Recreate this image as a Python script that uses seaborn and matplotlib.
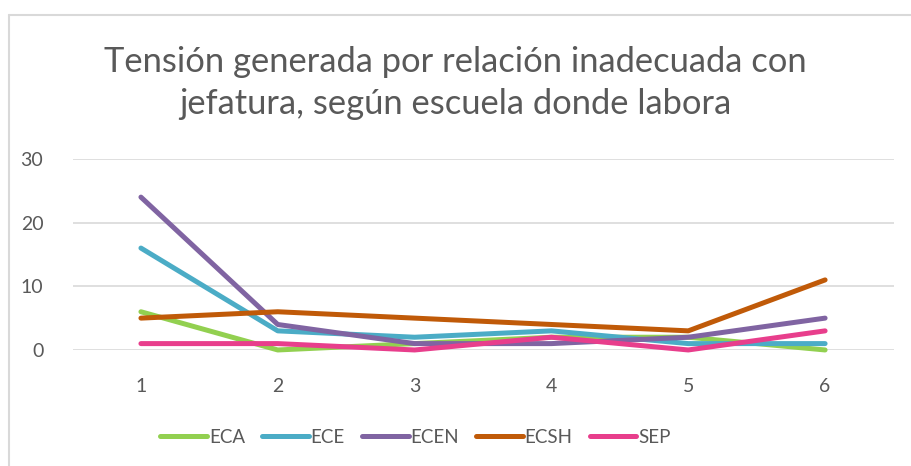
import numpy as np
import pandas as pd
import seaborn as sns
import matplotlib.pyplot as plt
from matplotlib.lines import Line2D

# datos
categorias = [1, 2, 3, 4, 5, 6]
eca = [6, 0, 1, 2, 2, 0]
ece = [16, 3, 2, 3, 1, 1]
ecen = [24, 4, 1, 1, 2, 5]
ecsh = [5, 6, 5, 4, 3, 11]
sep = [1, 1, 0, 2, 0, 3]
series = ['ECA', 'ECE', 'ECEN', 'ECSH', 'SEP']
colores = ['#92D050', '#4BACC6', '#8064A2', '#C05A08', '#E83E8C']

df = pd.DataFrame({'x': categorias, 'ECA': eca, 'ECE': ece, 'ECEN': ecen,
                   'ECSH': ecsh, 'SEP': sep})
df = df.melt(id_vars='x', var_name='escuela', value_name='valor')

sns.set_style('white')
plt.rcParams['font.family'] = ['Lato', 'DejaVu Sans']

fig = plt.figure(figsize=(9.11, 4.66), dpi=100)
ax = fig.add_axes([0.0796, 0.249, 0.9012, 0.41])

sns.lineplot(data=df, x='x', y='valor', hue='escuela', hue_order=series,
             palette=colores, linewidth=3.6, ax=ax, legend=False,
             solid_capstyle='round', solid_joinstyle='round')

ax.set_xlim(0.5, 6.5)
ax.set_ylim(0, 30)
ax.set_yticks([0, 10, 20, 30])
ax.set_xticks(categorias)
ax.grid(axis='y', color='#D9D9D9', linewidth=1.2)
ax.set_axisbelow(True)
for s in ax.spines.values():
    s.set_visible(False)
ax.tick_params(axis='both', length=0, labelsize=14, labelcolor='#595959')
ax.tick_params(axis='x', pad=20)
ax.tick_params(axis='y', pad=21)
ax.set_xlabel('')
ax.set_ylabel('')
for ln in ax.lines:
    ln.set_clip_on(False)

fig.text(0.5, 0.822, 'Tensión generada por relación inadecuada con\njefatura, según escuela donde labora',
         ha='center', va='center', fontsize=24.8, color='#595959', linespacing=1.38)

handles = [Line2D([0], [0], color=c, linewidth=3.6, solid_capstyle='round') for c in colores]
fig.legend(handles, series, loc='center', bbox_to_anchor=(0.456, 0.062), ncol=5,
           frameon=False, fontsize=13.5, labelcolor='#595959', handlelength=2.5,
           handletextpad=0.1, columnspacing=0.9)

# marco del grafico
fig.add_artist(Line2D([8.5 / 911, 8.5 / 911], [0, 1 - 15 / 466], color='#D9D9D9', linewidth=1.5))
fig.add_artist(Line2D([8.5 / 911, 1], [1 - 15 / 466, 1 - 15 / 466], color='#D9D9D9', linewidth=1.5))

fig.savefig('out.png', dpi=100)
